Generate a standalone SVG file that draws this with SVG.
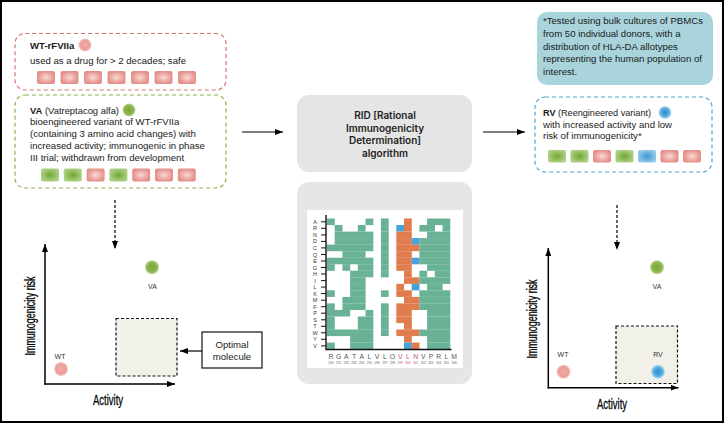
<svg xmlns="http://www.w3.org/2000/svg" width="724" height="423" viewBox="0 0 724 423">
<defs>
<style>
.t{font-family:"Liberation Sans",Arial,sans-serif;font-size:9.6px;fill:#1a1a1a}
.b{font-weight:bold}
.rid{font-family:Inter,"Liberation Sans",sans-serif;font-size:10px;font-weight:600;fill:#222;text-anchor:middle}
.ax{font-family:"Liberation Sans",Arial,sans-serif;font-size:14px;fill:#000;stroke:#000;stroke-width:0.25;text-anchor:middle}
.pl{font-family:"Liberation Sans",Arial,sans-serif;font-size:7px;fill:#333;text-anchor:middle}
.rl{font-family:"Liberation Sans",Arial,sans-serif;font-size:5.5px;fill:#333;text-anchor:middle}
.cl{font-family:"Liberation Sans",Arial,sans-serif;font-size:6.8px;fill:#555;text-anchor:middle}
.cn{font-family:"Liberation Sans",Arial,sans-serif;font-size:3.2px;fill:#666;text-anchor:middle}
.red{fill:#c8506c}
.g{fill:#69b296}
.o{fill:#e17c4e}
.bl{fill:#46a2d9}
.axis{stroke:#000;stroke-width:1.5;fill:none}
.arr{stroke:#000;stroke-width:1.2;fill:none}
.dash{stroke:#000;stroke-width:1.2;fill:none;stroke-dasharray:3 2}
.sqp{fill:url(#pinkSq)}
.sqg{fill:url(#greenSq)}
.sqb{fill:url(#blueSq)}
</style>
<radialGradient id="pinkSq"><stop offset="0" stop-color="#f9d8d4"/><stop offset="1" stop-color="#e48f89"/></radialGradient>
<radialGradient id="greenSq"><stop offset="0" stop-color="#6fa830"/><stop offset="1" stop-color="#acce82"/></radialGradient>
<radialGradient id="blueSq"><stop offset="0" stop-color="#3a98d6"/><stop offset="1" stop-color="#92c8e8"/></radialGradient>
<radialGradient id="pinkDot"><stop offset="0" stop-color="#f2aea8"/><stop offset="0.7" stop-color="#ec9c96"/><stop offset="1" stop-color="#f6d0cc"/></radialGradient>
<radialGradient id="greenDot"><stop offset="0" stop-color="#7aa838"/><stop offset="0.7" stop-color="#8db44e"/><stop offset="1" stop-color="#c6dba4"/></radialGradient>
<radialGradient id="blueDot"><stop offset="0" stop-color="#2a8cd0"/><stop offset="0.65" stop-color="#58ade0"/><stop offset="1" stop-color="#bfe0f4"/></radialGradient>
<marker id="ah" viewBox="0 0 8 6" refX="8" refY="3" markerWidth="8" markerHeight="6" markerUnits="userSpaceOnUse" orient="auto"><path d="M0,0 L8,3 L0,6 z" fill="#000"/></marker>
</defs>
<rect x="0" y="0" width="724" height="423" fill="#fff"/>
<rect x="1" y="1" width="722" height="421" fill="none" stroke="#000" stroke-width="2"/>

<g id="wt-box">
<rect x="15" y="33.5" width="211" height="56.5" rx="10" fill="none" stroke="#d9746e" stroke-width="1.2" stroke-dasharray="4 3"/>
<text class="t b" x="30" y="48.5">WT-rFVIIa</text>
<circle cx="85" cy="45" r="6.5" fill="url(#pinkDot)"/>
<text class="t" x="30" y="64">used as a drug for &gt; 2 decades; safe</text>
<rect class="sqp" x="37" y="71" width="18" height="13" rx="2"/>
<rect class="sqp" x="60.5" y="71" width="18" height="13" rx="2"/>
<rect class="sqp" x="84" y="71" width="18" height="13" rx="2"/>
<rect class="sqp" x="107.5" y="71" width="18" height="13" rx="2"/>
<rect class="sqp" x="131" y="71" width="18" height="13" rx="2"/>
<rect class="sqp" x="154.5" y="71" width="18" height="13" rx="2"/>
<rect class="sqp" x="178" y="71" width="18" height="13" rx="2"/>
</g>

<g id="va-box">
<rect x="15" y="95" width="211" height="93" rx="10" fill="none" stroke="#8fb24c" stroke-width="1.2" stroke-dasharray="4 3"/>
<text class="t" x="30" y="113.5" textLength="89" lengthAdjust="spacingAndGlyphs"><tspan class="b">VA</tspan> (Vatreptacog alfa)</text>
<circle cx="129" cy="110" r="6.5" fill="url(#greenDot)"/>
<text class="t" x="30" y="125">bioengineered variant of WT-rFVIIa</text>
<text class="t" x="30" y="137">(containing 3 amino acid changes) with</text>
<text class="t" x="30" y="149">increased activity; immunogenic in phase</text>
<text class="t" x="30" y="161">III trial; withdrawn from development</text>
<rect class="sqg" x="41" y="168.5" width="18" height="13" rx="2"/>
<rect class="sqg" x="63.8" y="168.5" width="18" height="13" rx="2"/>
<rect class="sqp" x="86.6" y="168.5" width="18" height="13" rx="2"/>
<rect class="sqg" x="109.4" y="168.5" width="18" height="13" rx="2"/>
<rect class="sqp" x="132.2" y="168.5" width="18" height="13" rx="2"/>
<rect class="sqp" x="155" y="168.5" width="18" height="13" rx="2"/>
<rect class="sqp" x="177.8" y="168.5" width="18" height="13" rx="2"/>
</g>

<g id="rid-box">
<rect x="297" y="95" width="175" height="77" rx="12" fill="#e5e5e5"/>
<text class="rid" x="385" y="119">RID [Rational</text>
<text class="rid" x="385" y="131.5">Immunogenicity</text>
<text class="rid" x="385" y="144">Determination]</text>
<text class="rid" x="385" y="156.5">algorithm</text>
</g>

<g id="heatmap-box">
<rect x="297" y="182" width="175" height="202" rx="12" fill="#e6e6e6"/>
<rect x="307" y="210" width="156" height="158" fill="#fff"/>
<g id="cells">
<rect class="g" x="327" y="218.5" width="7.8" height="6.6"/><rect class="g" x="365.5" y="218.5" width="7.8" height="6.6"/><rect class="g" x="380.9" y="218.5" width="7.8" height="6.6"/><rect class="o" x="404" y="218.5" width="7.8" height="6.6"/><rect class="g" x="427.1" y="218.5" width="23.2" height="6.6"/>
<rect class="g" x="334.7" y="225" width="7.8" height="6.6"/><rect class="g" x="357.8" y="225" width="7.8" height="6.6"/><rect class="g" x="380.9" y="225" width="7.8" height="6.6"/><rect class="bl" x="396.3" y="225" width="7.8" height="6.6"/><rect class="o" x="404" y="225" width="7.8" height="6.6"/><rect class="g" x="419.4" y="225" width="15.5" height="6.6"/><rect class="g" x="442.5" y="225" width="7.8" height="6.6"/>
<rect class="g" x="334.7" y="231.6" width="38.6" height="6.6"/><rect class="g" x="380.9" y="231.6" width="7.8" height="6.6"/><rect class="o" x="396.3" y="231.6" width="15.5" height="6.6"/><rect class="g" x="427.1" y="231.6" width="23.2" height="6.6"/>
<rect class="g" x="334.7" y="238.1" width="38.6" height="6.6"/><rect class="g" x="380.9" y="238.1" width="7.8" height="6.6"/><rect class="o" x="396.3" y="238.1" width="15.5" height="6.6"/><rect class="bl" x="411.7" y="238.1" width="7.8" height="6.6"/><rect class="g" x="419.4" y="238.1" width="30.9" height="6.6"/>
<rect class="g" x="327" y="244.6" width="46.3" height="6.6"/><rect class="g" x="380.9" y="244.6" width="7.8" height="6.6"/><rect class="o" x="396.3" y="244.6" width="23.2" height="6.6"/><rect class="g" x="419.4" y="244.6" width="30.9" height="6.6"/>
<rect class="g" x="342.4" y="251.2" width="23.2" height="6.6"/><rect class="g" x="380.9" y="251.2" width="7.8" height="6.6"/><rect class="o" x="396.3" y="251.2" width="15.5" height="6.6"/><rect class="g" x="419.4" y="251.2" width="30.9" height="6.6"/>
<rect class="g" x="327" y="257.7" width="46.3" height="6.6"/><rect class="g" x="380.9" y="257.7" width="7.8" height="6.6"/><rect class="o" x="396.3" y="257.7" width="15.5" height="6.6"/><rect class="bl" x="411.7" y="257.7" width="7.8" height="6.6"/><rect class="g" x="419.4" y="257.7" width="30.9" height="6.6"/>
<rect class="g" x="327" y="264.2" width="7.8" height="6.6"/><rect class="g" x="342.4" y="264.2" width="7.8" height="6.6"/><rect class="g" x="357.8" y="264.2" width="15.5" height="6.6"/><rect class="g" x="380.9" y="264.2" width="7.8" height="6.6"/><rect class="o" x="396.3" y="264.2" width="15.5" height="6.6"/><rect class="g" x="427.1" y="264.2" width="23.2" height="6.6"/>
<rect class="g" x="350.1" y="270.7" width="23.2" height="6.6"/><rect class="g" x="380.9" y="270.7" width="7.8" height="6.6"/><rect class="o" x="404" y="270.7" width="7.8" height="6.6"/><rect class="g" x="419.4" y="270.7" width="7.8" height="6.6"/><rect class="g" x="434.8" y="270.7" width="15.5" height="6.6"/>
<rect class="g" x="350.1" y="277.3" width="15.5" height="6.6"/><rect class="o" x="404" y="277.3" width="15.5" height="6.6"/><rect class="g" x="419.4" y="277.3" width="30.9" height="6.6"/>
<rect class="g" x="350.1" y="283.8" width="15.5" height="6.6"/><rect class="o" x="396.3" y="283.8" width="7.8" height="6.6"/><rect class="bl" x="411.7" y="283.8" width="7.8" height="6.6"/><rect class="g" x="427.1" y="283.8" width="15.5" height="6.6"/>
<rect class="g" x="327" y="290.3" width="7.8" height="6.6"/><rect class="g" x="350.1" y="290.3" width="15.5" height="6.6"/><rect class="g" x="380.9" y="290.3" width="7.8" height="6.6"/><rect class="o" x="396.3" y="290.3" width="15.5" height="6.6"/><rect class="g" x="419.4" y="290.3" width="30.9" height="6.6"/>
<rect class="g" x="342.4" y="296.9" width="23.2" height="6.6"/><rect class="o" x="404" y="296.9" width="15.5" height="6.6"/><rect class="g" x="419.4" y="296.9" width="30.9" height="6.6"/>
<rect class="g" x="327" y="303.4" width="7.8" height="6.6"/><rect class="g" x="342.4" y="303.4" width="23.2" height="6.6"/><rect class="g" x="380.9" y="303.4" width="7.8" height="6.6"/><rect class="o" x="396.3" y="303.4" width="23.2" height="6.6"/><rect class="g" x="419.4" y="303.4" width="30.9" height="6.6"/>
<rect class="g" x="327" y="309.9" width="23.2" height="6.6"/><rect class="g" x="365.5" y="309.9" width="7.8" height="6.6"/><rect class="g" x="380.9" y="309.9" width="7.8" height="6.6"/><rect class="o" x="396.3" y="309.9" width="15.5" height="6.6"/><rect class="g" x="427.1" y="309.9" width="23.2" height="6.6"/>
<rect class="g" x="327" y="316.5" width="7.8" height="6.6"/><rect class="g" x="357.8" y="316.5" width="15.5" height="6.6"/><rect class="g" x="380.9" y="316.5" width="7.8" height="6.6"/><rect class="o" x="396.3" y="316.5" width="15.5" height="6.6"/><rect class="g" x="427.1" y="316.5" width="23.2" height="6.6"/>
<rect class="g" x="327" y="323" width="7.8" height="6.6"/><rect class="g" x="357.8" y="323" width="15.5" height="6.6"/><rect class="g" x="380.9" y="323" width="7.8" height="6.6"/><rect class="o" x="404" y="323" width="7.8" height="6.6"/><rect class="g" x="427.1" y="323" width="23.2" height="6.6"/>
<rect class="g" x="327" y="329.5" width="46.3" height="6.6"/><rect class="g" x="380.9" y="329.5" width="7.8" height="6.6"/><rect class="o" x="396.3" y="329.5" width="23.2" height="6.6"/><rect class="g" x="419.4" y="329.5" width="30.9" height="6.6"/>
<rect class="g" x="350.1" y="336" width="23.2" height="6.6"/><rect class="o" x="404" y="336" width="7.8" height="6.6"/><rect class="g" x="427.1" y="336" width="23.2" height="6.6"/>
<rect class="g" x="327" y="342.6" width="7.8" height="6.6"/><rect class="g" x="350.1" y="342.6" width="23.2" height="6.6"/><rect class="bl" x="404" y="342.6" width="7.8" height="6.6"/><rect class="o" x="411.7" y="342.6" width="7.8" height="6.6"/><rect class="g" x="427.1" y="342.6" width="23.2" height="6.6"/>
</g>
<path d="M326,215 V349.5 H451.5" stroke="#111" stroke-width="1.4" fill="none"/>
<path d="M321,221.8H326M321,228.3H326M321,234.9H326M321,241.4H326M321,247.9H326M321,254.5H326M321,261H326M321,267.5H326M321,274H326M321,280.6H326M321,287.1H326M321,293.6H326M321,300.2H326M321,306.7H326M321,313.2H326M321,319.8H326M321,326.3H326M321,332.8H326M321,339.3H326M321,345.9H326" stroke="#111" stroke-width="1"/>
<g>
<text class="rl" x="315" y="223.8">A</text><text class="rl" x="315" y="230.3">R</text><text class="rl" x="315" y="236.9">N</text><text class="rl" x="315" y="243.4">D</text><text class="rl" x="315" y="249.9">C</text><text class="rl" x="315" y="256.5">Q</text><text class="rl" x="315" y="263">E</text><text class="rl" x="315" y="269.5">G</text><text class="rl" x="315" y="276">H</text><text class="rl" x="315" y="282.6">I</text><text class="rl" x="315" y="289.1">L</text><text class="rl" x="315" y="295.6">K</text><text class="rl" x="315" y="302.2">M</text><text class="rl" x="315" y="308.7">F</text><text class="rl" x="315" y="315.2">P</text><text class="rl" x="315" y="321.8">S</text><text class="rl" x="315" y="328.3">T</text><text class="rl" x="315" y="334.8">W</text><text class="rl" x="315" y="341.3">Y</text><text class="rl" x="315" y="347.9">V</text>
</g>
<g>
<text class="cl" x="330.9" y="359">R</text><text class="cl" x="338.6" y="359">G</text><text class="cl" x="346.3" y="359">A</text><text class="cl" x="354" y="359">T</text><text class="cl" x="361.7" y="359">A</text><text class="cl" x="369.4" y="359">L</text><text class="cl" x="377.1" y="359">V</text><text class="cl" x="384.8" y="359">L</text><text class="cl" x="392.5" y="359">O</text><text class="cl red" x="400.2" y="359">V</text><text class="cl red" x="407.9" y="359">L</text><text class="cl red" x="415.6" y="359">N</text><text class="cl" x="423.3" y="359">V</text><text class="cl" x="431" y="359">P</text><text class="cl" x="438.7" y="359">R</text><text class="cl" x="446.4" y="359">L</text><text class="cl" x="454.1" y="359">M</text>
<text class="cn" x="330.9" y="364">290</text><text class="cn" x="338.6" y="364">291</text><text class="cn" x="346.3" y="364">292</text><text class="cn" x="354" y="364">293</text><text class="cn" x="361.7" y="364">294</text><text class="cn" x="369.4" y="364">295</text><text class="cn" x="377.1" y="364">296</text><text class="cn" x="384.8" y="364">297</text><text class="cn" x="392.5" y="364">298</text><text class="cn red" x="400.2" y="364">299</text><text class="cn red" x="407.9" y="364">300</text><text class="cn red" x="415.6" y="364">301</text><text class="cn" x="423.3" y="364">302</text><text class="cn" x="431" y="364">303</text><text class="cn" x="438.7" y="364">304</text><text class="cn" x="446.4" y="364">305</text><text class="cn" x="454.1" y="364">306</text>
</g>
</g>

<g id="note-box">
<rect x="537" y="12" width="176" height="73" rx="10" fill="#a9d4dc"/>
<text class="t" x="543" y="24">*Tested using bulk cultures of PBMCs</text>
<text class="t" x="543" y="37">from 50 individual donors, with a</text>
<text class="t" x="543" y="49.5">distribution of HLA-DA allotypes</text>
<text class="t" x="543" y="62">representing the human population of</text>
<text class="t" x="543" y="74.5">interest.</text>
</g>

<g id="rv-box">
<rect x="535" y="97" width="177" height="75" rx="10" fill="none" stroke="#4fa7c9" stroke-width="1.2" stroke-dasharray="4 3"/>
<text class="t" x="543" y="116" textLength="108" lengthAdjust="spacingAndGlyphs"><tspan class="b">RV</tspan> (Reengineered variant)</text>
<circle cx="665" cy="112.5" r="6.5" fill="url(#blueDot)"/>
<text class="t" x="543" y="127.5">with increased activity and low</text>
<text class="t" x="543" y="139">risk of immunogenicity*</text>
<rect class="sqg" x="548" y="150" width="18" height="12.5" rx="2"/>
<rect class="sqg" x="570.5" y="150" width="18" height="12.5" rx="2"/>
<rect class="sqp" x="593" y="150" width="18" height="12.5" rx="2"/>
<rect class="sqg" x="615.5" y="150" width="18" height="12.5" rx="2"/>
<rect class="sqb" x="638" y="150" width="18" height="12.5" rx="2"/>
<rect class="sqp" x="660.5" y="150" width="18" height="12.5" rx="2"/>
<rect class="sqp" x="683" y="150" width="18" height="12.5" rx="2"/>
</g>

<g id="left-plot">
<rect x="116" y="318.5" width="61" height="57.5" fill="#f1f1ea" stroke="#111" stroke-width="1.2" stroke-dasharray="3 2"/>
<circle cx="152" cy="267.3" r="7" fill="url(#greenDot)"/>
<text class="pl" x="152.5" y="289">VA</text>
<text class="pl" x="60" y="359">WT</text>
<circle cx="61" cy="369" r="7" fill="url(#pinkDot)"/>
<text class="ax" transform="translate(34.5,316) rotate(-90) scale(0.64,1)">Immunogenicity risk</text>
<text class="ax" transform="translate(108,405) scale(0.68,1)">Activity</text>
</g>

<g id="optimal-molecule">
<rect x="202" y="332" width="60" height="36" fill="#fff" stroke="#111" stroke-width="1.2"/>
<text class="t" x="232" y="347.5" text-anchor="middle">Optimal</text>
<text class="t" x="232" y="359.5" text-anchor="middle">molecule</text>
</g>

<g id="right-plot">
<rect x="616" y="326" width="61.5" height="57.5" fill="#f1f1ea" stroke="#111" stroke-width="1.2" stroke-dasharray="3 2"/>
<circle cx="657" cy="267.3" r="7" fill="url(#greenDot)"/>
<text class="pl" x="657" y="289">VA</text>
<text class="pl" x="563" y="357">WT</text>
<circle cx="563.5" cy="371.7" r="7" fill="url(#pinkDot)"/>
<text class="pl" x="658" y="357">RV</text>
<circle cx="658" cy="371.7" r="7" fill="url(#blueDot)"/>
<text class="ax" transform="translate(536.5,319) rotate(-90) scale(0.64,1)">Immunogenicity risk</text>
<text class="ax" transform="translate(612,408.5) scale(0.68,1)">Activity</text>
</g>

<g id="connectors">
<line class="arr" x1="242" y1="132" x2="283" y2="132" marker-end="url(#ah)"/>
<line class="arr" x1="483" y1="132" x2="525" y2="132" marker-end="url(#ah)"/>
<line class="dash" x1="115" y1="200" x2="115" y2="249" marker-end="url(#ah)"/>
<line class="dash" x1="617" y1="205" x2="617" y2="250" marker-end="url(#ah)"/>
<line class="arr" x1="202" y1="351" x2="180" y2="351" marker-end="url(#ah)"/>
<line class="axis" x1="45" y1="384.7" x2="45" y2="244" marker-end="url(#ah)"/>
<line class="axis" x1="44.3" y1="384" x2="175" y2="384" marker-end="url(#ah)"/>
<line class="axis" x1="548.3" y1="388.4" x2="548.3" y2="248" marker-end="url(#ah)"/>
<line class="axis" x1="547.6" y1="387.7" x2="678.5" y2="387.7" marker-end="url(#ah)"/>
</g>
</svg>
